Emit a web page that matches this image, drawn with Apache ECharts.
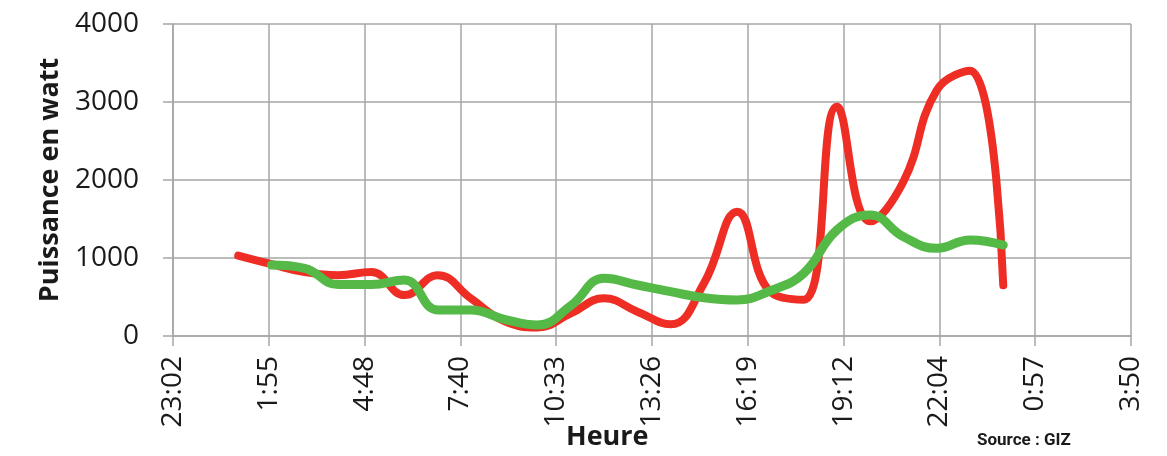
<!DOCTYPE html>
<html>
<head>
<meta charset="utf-8">
<script src="https://cdn.jsdelivr.net/npm/echarts@6/dist/echarts.min.js"></script>
<style>
  html, body { margin: 0; padding: 0; background: #fff; }
  #chart { width: 1167px; height: 456px; }
</style>
</head>
<body>
<div id="chart"></div>
<script>
// tick labels of the time axis (one every 0.12 day = 172.8 min, from 23:02)
const tickLabels = ['23:02', '1:55', '4:48', '7:40', '10:33', '13:26', '16:19', '19:12', '22:04', '0:57', '3:50']
const tickStep = 172.8
const startOffset = 57.6 // minutes between 23:02:24 and midnight

// hourly readings (hour of the day, 24 = midnight)
const redHours = [1, 2, 3, 4, 5, 6, 7, 8, 9, 10, 11, 12, 13, 14, 15, 16, 17, 18, 19, 20, 21, 22, 23, 24]
const redValues = [1030, 920, 820, 780, 820, 525, 780, 480, 190, 110, 290, 483, 312, 150, 675, 1594, 565, 465, 2940, 1470, 1980, 3150, 3400, 650]

const greenHours = [2, 3, 4, 5, 6, 7, 8, 9, 10, 11, 12, 13, 14, 15, 16, 17, 18, 19, 20, 21, 22, 23, 24]
const greenValues = [910, 868, 660, 660, 718, 333, 333, 214, 141, 390, 740, 654, 568, 491, 462, 580, 803, 1359, 1551, 1273, 1124, 1231, 1167]

const toPoints = (hours, values) => hours.map((h, i) => [h * 60 + startOffset, values[i]])

const chart = echarts.init(document.getElementById('chart'))
const gridColor = '#a6a6a6'
const labelFont = '"Open Sans", sans-serif'

chart.setOption({
  animation: false,
  grid: {
    left: 173,
    right: 36,
    top: 24,
    bottom: 120
  },
  xAxis: {
    type: 'value',
    min: 0,
    max: tickStep * 10,
    interval: tickStep,
    axisLine: { show: true, lineStyle: { color: gridColor, width: 1.5 } },
    axisTick: { show: true, length: 10, lineStyle: { color: gridColor, width: 1.5 } },
    splitLine: { show: true, lineStyle: { color: gridColor, width: 1.5 } },
    axisLabel: {
      rotate: 90,
      margin: 20,
      color: '#1a1a1a',
      fontSize: 28,
      fontFamily: labelFont,
      formatter: (v) => tickLabels[Math.round(v / tickStep)] || ''
    }
  },
  yAxis: {
    type: 'value',
    min: 0,
    max: 4000,
    interval: 1000,
    name: 'Puissance en watt',
    nameLocation: 'middle',
    nameRotate: 90,
    nameGap: 106,
    nameTextStyle: {
      color: '#1a1a1a',
      fontSize: 27,
      fontWeight: 'bold',
      fontFamily: labelFont
    },
    axisLine: { show: true, lineStyle: { color: gridColor, width: 1.5 } },
    axisTick: { show: true, length: 10, lineStyle: { color: gridColor, width: 1.5 } },
    splitLine: { show: true, lineStyle: { color: gridColor, width: 1.5 } },
    axisLabel: {
      margin: 34,
      color: '#1a1a1a',
      fontSize: 28,
      fontFamily: labelFont,
      formatter: (v) => String(v)
    }
  },
  graphic: [
    {
      type: 'text',
      left: 566,
      top: 424,
      style: {
        text: 'Heure',
        fill: '#1a1a1a',
        font: 'bold 27px "Open Sans", sans-serif'
      }
    },
    {
      type: 'text',
      left: 977,
      top: 432,
      style: {
        text: 'Source : GIZ',
        fill: '#1a1a1a',
        font: 'bold 17px "Liberation Sans Narrow", "Roboto", sans-serif'
      }
    }
  ],
  series: [
    {
      name: 'rouge',
      type: 'line',
      smooth: 0.45,
      showSymbol: false,
      data: toPoints(redHours, redValues),
      lineStyle: { color: '#ee2d25', width: 8, cap: 'round', join: 'round' }
    },
    {
      name: 'vert',
      type: 'line',
      smooth: 0.45,
      showSymbol: false,
      data: toPoints(greenHours, greenValues),
      lineStyle: { color: '#55b947', width: 9, cap: 'round', join: 'round' }
    }
  ]
})
</script>
</body>
</html>
